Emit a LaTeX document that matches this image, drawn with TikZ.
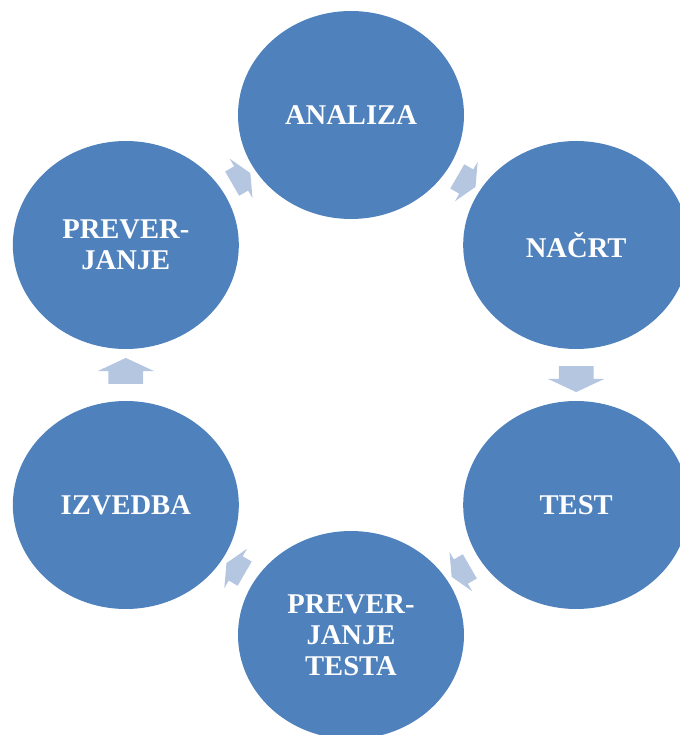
\documentclass[tikz,border=0pt]{standalone}
\usepackage{fontspec}
\setmainfont{Liberation Serif}
\usetikzlibrary{positioning}
\usetikzlibrary{calc}
\usetikzlibrary{shapes.geometric}
\usetikzlibrary{shapes.arrows}
\definecolor{phase blue}{HTML}{4F81BD}
\definecolor{link blue}{HTML}{B4C6E0}
\colorlet{phase colour}{phase blue}
\colorlet{link colour}{link blue}
\tikzset{
    % Define a set of styles
    % First some fills
    phase fill/.style={fill=phase colour},
    link fill/.style={fill=link colour},
%
    % We almost always want centre aligned node text
    every node/.style={align=center},
}

\begin{document}
\begin{tikzpicture}[
    phase/.style={ellipse, phase fill, text=white, inner sep=0pt,
        minimum width=113pt, minimum height=104pt,
        font=\bfseries\fontsize{14.3}{15.5}\selectfont},
    % shaft width comes from inner ysep, the head from head extend
    link/.style={single arrow, link fill, inner xsep=0pt, inner ysep=8.5pt,
        minimum height=13pt,
        single arrow head extend=5.5pt, single arrow tip angle=130},
    slant link/.style={link, inner ysep=6.8pt, minimum height=10.5pt,
        single arrow head extend=4.4pt},
    x=0.5pt, y=0.5pt,
]

\clip (0,0) rectangle (680,735);
\coordinate (hub) at (351,360);

\path (hub)
    +(90:260) node [phase] (analiza) {ANALIZA}
    +(30:260) node [phase] (nacrt) {NAČRT}
    +(-30:260) node [phase] (test) {TEST}
    +(-90:260) node [phase] (check test) {PREVER-\\JANJE\\TESTA}
    +(-150:260) node [phase] (izvedba) {IZVEDBA}
    +(150:260) node [phase] (check) {PREVER-\\JANJE};

% arrows sit half way between neighbours
\node [slant link, rotate=-30] (to nacrt) at ($(analiza)!0.5!(nacrt)$) {};
\node [link, rotate=-90] (to test) at ($(nacrt)!0.5!(test)$) {};
\node [slant link, rotate=-150] (to check test) at ($(test)!0.5!(check test)$) {};
\node [slant link, rotate=150] (to izvedba) at ($(check test)!0.5!(izvedba)$) {};
\node [link, rotate=90] (to check) at ($(izvedba)!0.5!(check)$) {};
\node [slant link, rotate=30] (to analiza) at ($(check)!0.5!(analiza)$) {};

\end{tikzpicture}
\end{document}
